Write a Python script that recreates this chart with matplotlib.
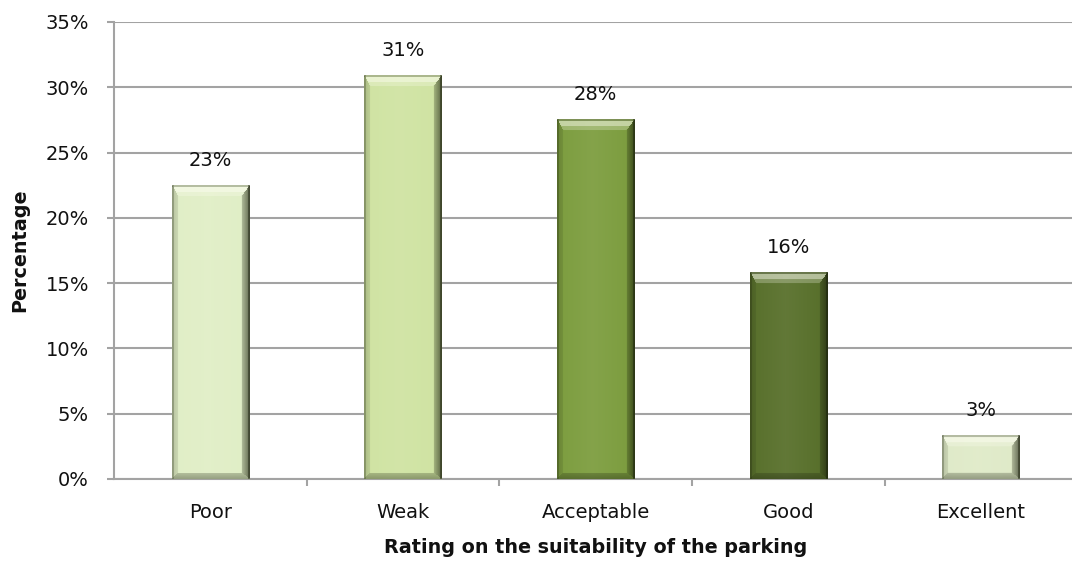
import numpy as np
import matplotlib
matplotlib.use("Agg")
import matplotlib.pyplot as plt
from matplotlib.colors import to_rgb
from matplotlib.ticker import MultipleLocator, FixedLocator, FuncFormatter

plt.rcParams['font.family'] = ['DejaVu Sans']

categories = ["Poor", "Weak", "Acceptable", "Good", "Excellent"]
percentages = [22.5, 30.9, 27.5, 15.8, 3.3]
bar_colors = ["#e0eec6", "#cfe3a2", "#7b9c3d", "#566e29", "#dfeac8"]

W, H, DPI = 1072, 570, 100
fig = plt.figure(figsize=(W / DPI, H / DPI), dpi=DPI)
fig.patch.set_facecolor("white")
ax = fig.add_axes([114 / W, (H - 479) / H, 963.3 / W, 457 / H])

x = np.arange(len(categories))
ax.set_xlim(-0.5, len(categories) - 0.5)
ax.set_ylim(0, 35)

grid_c = "#a3a3a3"
txt_c = "#111111"
ax.yaxis.set_major_locator(MultipleLocator(5))
ax.yaxis.set_major_formatter(FuncFormatter(lambda v, p: f"{v:.0f}%"))
ax.grid(axis="y", color=grid_c, linewidth=1.5, zorder=0)
ax.set_axisbelow(True)
for s in ("top", "right"):
    ax.spines[s].set_visible(False)
for s in ("left", "bottom"):
    ax.spines[s].set_color(grid_c)
    ax.spines[s].set_linewidth(1.5)

ax.set_xticks(x)
ax.set_xticklabels(categories, fontsize=14, color=txt_c)
ax.tick_params(axis="x", which="major", length=0, pad=17)
ax.xaxis.set_minor_locator(FixedLocator(np.arange(0.5, len(categories) - 1, 1.0)))
ax.tick_params(axis="x", which="minor", length=5, width=1.5, color=grid_c, direction="out")
ax.tick_params(axis="y", length=5, width=1.5, color=grid_c, labelsize=14,
               labelcolor=txt_c, pad=13)

ax.set_xlabel("Rating on the suitability of the parking", fontsize=13.8,
              fontweight="bold", labelpad=12, color=txt_c)
ax.set_ylabel("Percentage", fontsize=13.8, fontweight="bold", labelpad=12, color=txt_c)

bars = ax.bar(x, percentages, width=0.4, color=bar_colors, zorder=2, linewidth=0)

# bevelled shading rendered as an image placed over each bar
px_per = ax.transData.transform([(1, 1)]) - ax.transData.transform([(0, 0)])
px_x, px_y = px_per[0]


def mix(c, t, amt):
    amt = np.asarray(amt, dtype=float)
    if amt.ndim:
        amt = amt[:, None]
    return c * (1 - amt) + np.asarray(t) * amt


white = np.array((1.0, 1.0, 0.96))
dark = np.array((0.10, 0.12, 0.05))

for rect, col in zip(bars, bar_colors):
    bx, bw, bh = rect.get_x(), rect.get_width(), rect.get_height()
    wp = max(int(round(bw * px_x)), 2)
    hp = max(int(round(bh * px_y)), 2)
    base = np.array(to_rgb(col))
    ii, jj = np.mgrid[0:hp, 0:wp]
    bt, bb, bl, br = 11.0, 6.0, 6.0, 8.0
    dt = ii / bt
    db = (hp - 1 - ii) / bb
    dl = jj / bl
    dr = (wp - 1 - jj) / br
    d = np.stack([dt, db, dl, dr])
    face = np.argmin(d, axis=0)
    dmin = np.min(d, axis=0)
    inb = dmin < 1.0

    img = np.empty((hp, wp, 3))
    img[:] = base
    horiz = np.clip(1 - np.abs((jj - wp * 0.45) / (wp * 0.55)), 0, 1)
    img = mix(img.reshape(-1, 3), white, (0.07 * horiz).ravel()).reshape(hp, wp, 3)

    top = inb & (face == 0)
    bot = inb & (face == 1)
    lef = inb & (face == 2)
    rig = inb & (face == 3)
    img[top] = mix(img[top], white, 0.25)
    img[bot] = mix(img[bot], dark, 0.22 + 0.15 * (1 - db[bot]))
    img[lef] = mix(img[lef], dark, 0.10 + 0.10 * (1 - dl[lef]))
    img[rig] = mix(img[rig], dark, 0.22 + 0.40 * (1 - dr[rig]))
    # highlight streak along the top facet
    hl = top & (ii >= 2) & (ii <= 6)
    img[hl] = mix(img[hl], white, 0.40)
    # thin dark rim on the outline
    rim_r = (wp - 1 - jj) < 1.5
    img[rim_r] = mix(img[rim_r], dark, 0.45)
    rim_t = ii < 1.5
    img[rim_t] = mix(img[rim_t], dark, 0.25)
    rim_l = jj < 1.5
    img[rim_l] = mix(img[rim_l], dark, 0.25)
    img = np.clip(img, 0, 1)
    ax.imshow(img, extent=(bx, bx + bw, 0, bh), aspect="auto",
              interpolation="bilinear", zorder=3)

ax.set_xlim(-0.5, len(categories) - 0.5)
ax.set_ylim(0, 35)

for rect, v in zip(bars, percentages):
    label = f"{int(np.floor(v + 0.5))}%"
    ax.annotate(label, (rect.get_x() + rect.get_width() / 2, v),
                xytext=(0, 18), textcoords="offset points",
                ha="center", va="center", fontsize=14, color=txt_c, zorder=4)

fig.savefig("out.png", dpi=DPI)
